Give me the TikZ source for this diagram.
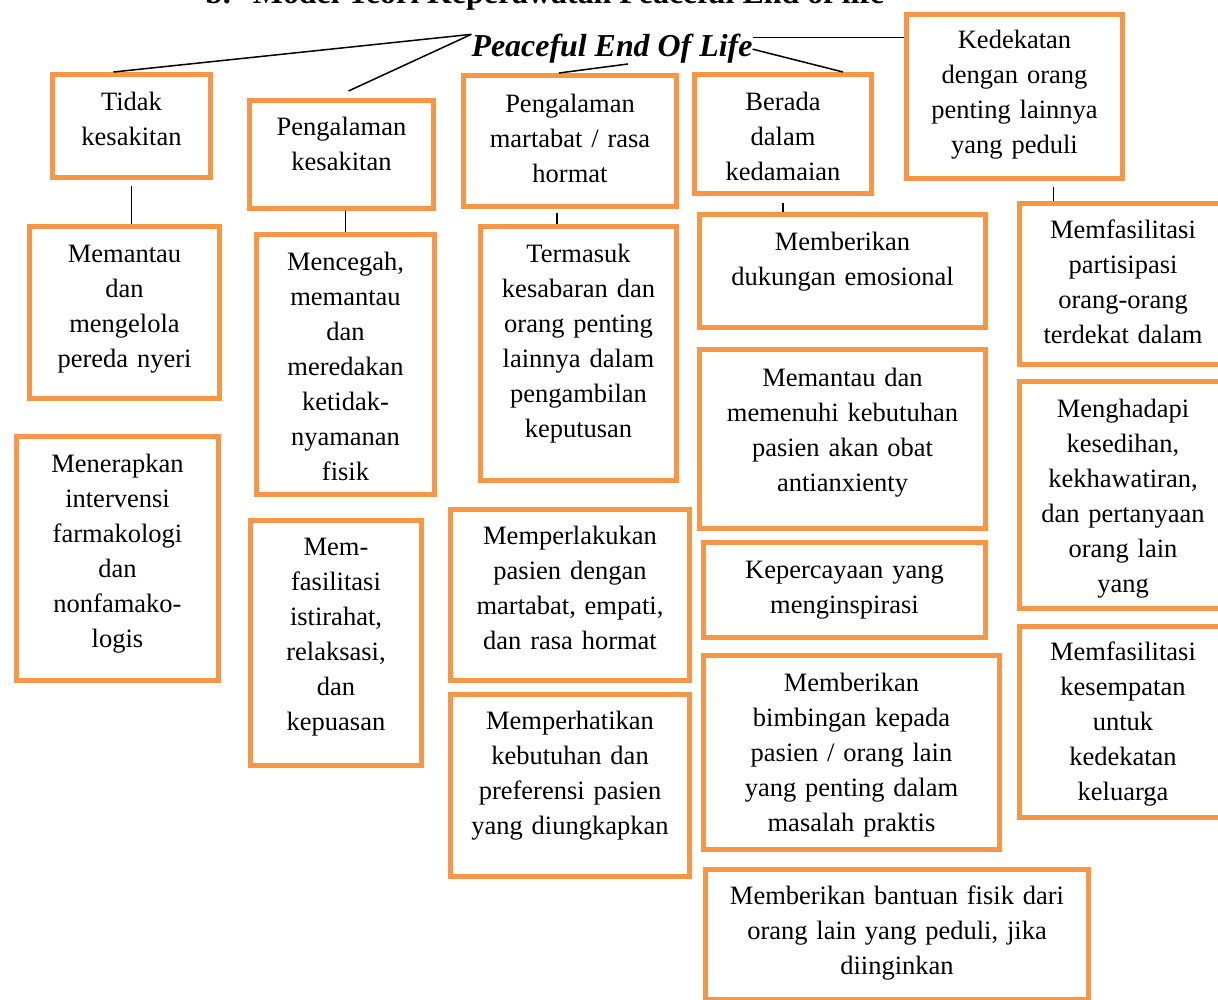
\documentclass[tikz,border=0pt]{standalone}
\usepackage{fontspec}
\setmainfont{Liberation Serif}
\usetikzlibrary{calc}
\definecolor{boxorange}{HTML}{F79646}
\tikzset{
  pbox/.style={draw=boxorange, line width=5pt, anchor=north west, inner sep=0pt,
    align=center, font=\fontsize{26.5}{35}\selectfont},
  link/.style={line width=1.5pt, color=black},
  headline/.style={inner sep=0pt, font=\fontsize{31.9}{36}\selectfont\bfseries}
}

\begin{document}
\begin{tikzpicture}[x=1pt, y=-1pt]
\useasboundingbox (0,0) rectangle (1218,1000);

\node[headline, anchor=base west] (title) at (205,4) {b.\hspace{22pt}Model Teori Keperawatan Peaceful End of life};
\node[headline, anchor=base, font=\fontsize{31.9}{36}\selectfont\bfseries\itshape] (peol) at (612,57) {Peaceful End Of Life};

\node[pbox, text width=158pt, text height=36pt, text depth=67pt] (tidak) at (50,72) {Tidak\\kesakitan};
\node[pbox, text width=184pt, text height=35pt, text depth=73pt] (pkes) at (247,98) {Pengalaman\\kesakitan};
\node[pbox, text width=213pt, text height=37pt, text depth=94pt] (pmart) at (461,73) {Pengalaman\\martabat / rasa\\hormat};
\node[pbox, text width=177pt, text height=36pt, text depth=83pt] (berada) at (692,72) {Berada\\dalam\\kedamaian};
\node[pbox, text width=216pt, text height=34pt, text depth=130pt] (dekat) at (904,12) {Kedekatan\\dengan orang\\penting lainnya\\yang peduli};

\node[pbox, text width=190pt, text height=36pt, text depth=136pt] (memantau) at (27,224) {Memantau\\dan\\mengelola\\pereda nyeri};
\node[pbox, text width=202pt, text height=36pt, text depth=208pt] (menerapkan) at (14,434) {Menerapkan\\intervensi\\farmakologi\\dan\\nonfamako-\\logis};

\node[pbox, text width=178pt, text height=36pt, text depth=224pt] (mencegah) at (254,232) {Mencegah,\\memantau\\dan\\meredakan\\ketidak-\\nyamanan\\fisik};
\node[pbox, text width=171pt, text height=35pt, text depth=210pt] (istirahat) at (248,518) {Mem-\\fasilitasi\\istirahat,\\relaksasi,\\dan\\kepuasan};

\node[pbox, text width=196pt, text height=36pt, text depth=218pt] (termasuk) at (478,224) {Termasuk\\kesabaran dan\\orang penting\\lainnya dalam\\pengambilan\\keputusan};
\node[pbox, text width=239pt, text height=35pt, text depth=136pt] (perlakukan) at (448,507) {Memperlakukan\\pasien dengan\\martabat, empati,\\dan rasa hormat};
\node[pbox, text width=239pt, text height=35pt, text depth=147pt] (perhatikan) at (448,692) {Memperhatikan\\kebutuhan dan\\preferensi pasien\\yang diungkapkan};

\node[pbox, text width=286pt, text height=36pt, text depth=77pt] (dukungan) at (697,212) {Memberikan\\dukungan emosional};
\node[pbox, text width=286pt, text height=37pt, text depth=142pt] (antianx) at (697,347) {Memantau dan\\memenuhi kebutuhan\\pasien akan obat\\antianxienty};
\node[pbox, text width=282pt, text height=36pt, text depth=59pt] (percaya) at (701,540) {Kepercayaan yang\\menginspirasi};
\node[pbox, text width=296pt, text height=36pt, text depth=158pt] (bimbingan) at (701,653) {Memberikan\\bimbingan kepada\\pasien / orang lain\\yang penting dalam\\masalah praktis};
\node[pbox, text width=383pt, text height=35pt, text depth=95pt] (bantuan) at (703,867) {Memberikan bantuan fisik dari\\orang lain yang peduli, jika\\diinginkan};

\node[pbox, text width=207pt, text height=35pt, text depth=126pt] (partisipasi) at (1017,201) {Memfasilitasi\\partisipasi\\orang-orang\\terdekat dalam};
\node[pbox, text width=207pt, text height=36pt, text depth=191pt] (hadapi) at (1017,379) {Menghadapi\\kesedihan,\\kekhawatiran,\\dan pertanyaan\\orang lain\\yang};
\node[pbox, text width=207pt, text height=34pt, text depth=157pt] (kesempatan) at (1017,624) {Memfasilitasi\\kesempatan\\untuk\\kedekatan\\keluarga};

\draw[link] (peol.north west) -- ([xshift=-18pt]tidak.north);
\draw[link] (peol.north west) -- ([xshift=7pt,yshift=7pt]pkes.north);
\draw[link] ([xshift=16pt]peol.south) -- ([xshift=-11pt]pmart.north);
\draw[link] (peol.east) -- ([xshift=60pt]berada.north);
\draw[link] ([yshift=-3pt]peol.north east) -- ([yshift=-3pt]peol.north east -| dekat.west);

\draw[link] ([yshift=-6pt]tidak.south) -- (tidak.south |- memantau.north);
\draw[link] (pkes.south -| mencegah.north) -- (mencegah.north);
\draw[link] ([xshift=-13pt,yshift=-4pt]pmart.south) -- ([xshift=-13pt]pmart.south |- termasuk.north);
\draw[link] ([yshift=-7pt]berada.south) -- (berada.south |- dukungan.north);
\draw[link] ([xshift=39pt,yshift=-6pt]dekat.south) -- ([xshift=39pt]dekat.south |- partisipasi.north);
\end{tikzpicture}
\end{document}
